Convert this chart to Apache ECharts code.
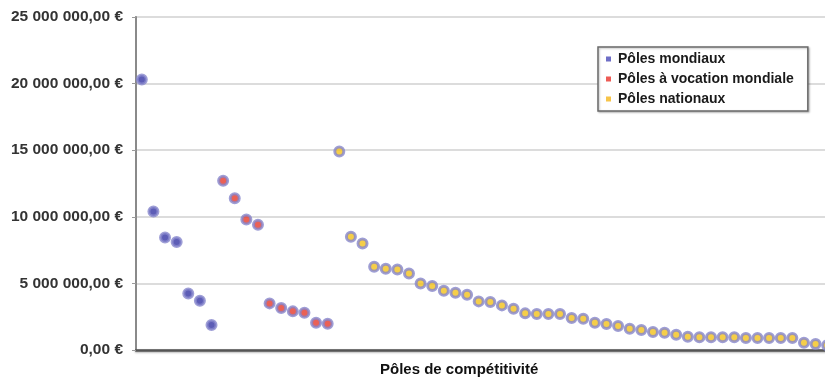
<!DOCTYPE html>
<html>
<head>
<meta charset="utf-8">
<script src="https://cdn.jsdelivr.net/npm/echarts@6/dist/echarts.min.js"></script>
<style>
  html, body { margin: 0; padding: 0; background: #ffffff; overflow: hidden; }
  #chart { width: 825px; height: 383px; }
</style>
</head>
<body>
<div id="chart"></div>
<script>
// Financement par pôle de compétitivité (en euros), classé par type de pôle
const seriesNames = ['Pôles mondiaux', 'Pôles à vocation mondiale', 'Pôles nationaux'];

const polesMondiaux = [20300000, 10400000, 8450000, 8100000, 4250000, 3700000, 1880000];

const polesVocationMondiale = [12700000, 11400000, 9800000, 9400000, 3500000, 3150000,
  2900000, 2800000, 2050000, 1970000];

const polesNationaux = [14900000, 8500000, 8000000, 6250000, 6100000, 6050000, 5750000,
  5000000, 4800000, 4450000, 4300000, 4150000, 3650000, 3600000, 3350000, 3100000,
  2750000, 2700000, 2700000, 2700000, 2400000, 2350000, 2050000, 1950000, 1800000,
  1600000, 1500000, 1350000, 1300000, 1150000, 1000000, 950000, 950000, 950000,
  950000, 900000, 900000, 900000, 900000, 900000, 550000, 450000, 350000];

const yTicks = [0, 5000000, 10000000, 15000000, 20000000, 25000000];

const groups = [polesMondiaux, polesVocationMondiale, polesNationaux];
const total = groups.reduce((n, g) => n + g.length, 0);
const categories = Array.from({ length: total }, (_, i) => String(i + 1));

// Each group occupies its own run of consecutive poles along the axis
function padded(groupIndex) {
  let start = 0;
  for (let k = 0; k < groupIndex; k++) start += groups[k].length;
  const out = new Array(total).fill('-');
  groups[groupIndex].forEach((v, j) => { out[start + j] = v; });
  return out;
}

function euro(v) {
  const s = Math.round(v).toString().replace(/\B(?=(\d{3})+(?!\d))/g, ' ');
  return s + ',00 €';
}

const fills = ['#3434a4', '#e53a2c', '#f2c21c'];
const legendFills = ['#4a4ab8', '#e8322a', '#f5b51c'];

const chart = echarts.init(document.getElementById('chart'), null, { renderer: 'canvas' });

chart.setOption({
  backgroundColor: '#ffffff',
  animation: false,
  textStyle: { fontFamily: 'Liberation Sans, Arial, sans-serif' },
  grid: {
    left: 136, top: 17, width: 697, height: 333,
    outerBoundsMode: 'none',
    containLabel: false,
    show: true, borderColor: '#9a9a9a', borderWidth: 1.5, backgroundColor: '#ffffff'
  },
  legend: {
    orient: 'vertical',
    left: 598, top: 47,
    padding: [5, 14, 5, 8],
    itemGap: 6,
    itemWidth: 5, itemHeight: 5,
    icon: 'rect',
    backgroundColor: '#ffffff',
    borderColor: '#6a6a6a', borderWidth: 1.5,
    shadowColor: 'rgba(0,0,0,0.25)', shadowBlur: 2, shadowOffsetX: 1, shadowOffsetY: 1,
    textStyle: { fontSize: 14, fontWeight: 'bold', color: '#1a1a1a', padding: [0, 0, 0, 2] },
    data: seriesNames.map((n, i) => ({ name: n, itemStyle: { color: legendFills[i], borderWidth: 0 } }))
  },
  xAxis: {
    type: 'category',
    data: categories,
    boundaryGap: true,
    axisLine: { show: true, lineStyle: { color: '#555555', width: 2.5, shadowColor: 'rgba(0,0,0,0.3)', shadowBlur: 2, shadowOffsetY: 1 } },
    axisTick: { show: false },
    axisLabel: { show: false },
    splitLine: { show: false }
  },
  yAxis: {
    type: 'value',
    min: yTicks[0],
    max: yTicks[yTicks.length - 1],
    interval: yTicks[1] - yTicks[0],
    axisLine: { show: true, lineStyle: { color: '#8a8a8a', width: 2 } },
    axisTick: { show: true, length: 4, lineStyle: { color: '#9a9a9a' } },
    axisLabel: {
      formatter: euro,
      fontSize: 15.5,
      fontWeight: 'bold',
      color: '#333333',
      margin: 13
    },
    splitLine: { show: true, lineStyle: { color: '#dcdcdc', width: 2 } }
  },
  graphic: [{
    type: 'text',
    left: 380, top: 362,
    style: {
      text: 'Pôles de compétitivité',
      font: 'bold 15px Liberation Sans, Arial, sans-serif',
      fill: '#111111'
    }
  }],
  series: seriesNames.map((n, i) => ({
    name: n,
    type: 'scatter',
    data: padded(i),
    symbol: 'circle',
    symbolSize: 9,
    itemStyle: {
      color: fills[i],
      borderColor: '#8686cc',
      borderWidth: 3
    }
  }))
});
</script>
</body>
</html>
